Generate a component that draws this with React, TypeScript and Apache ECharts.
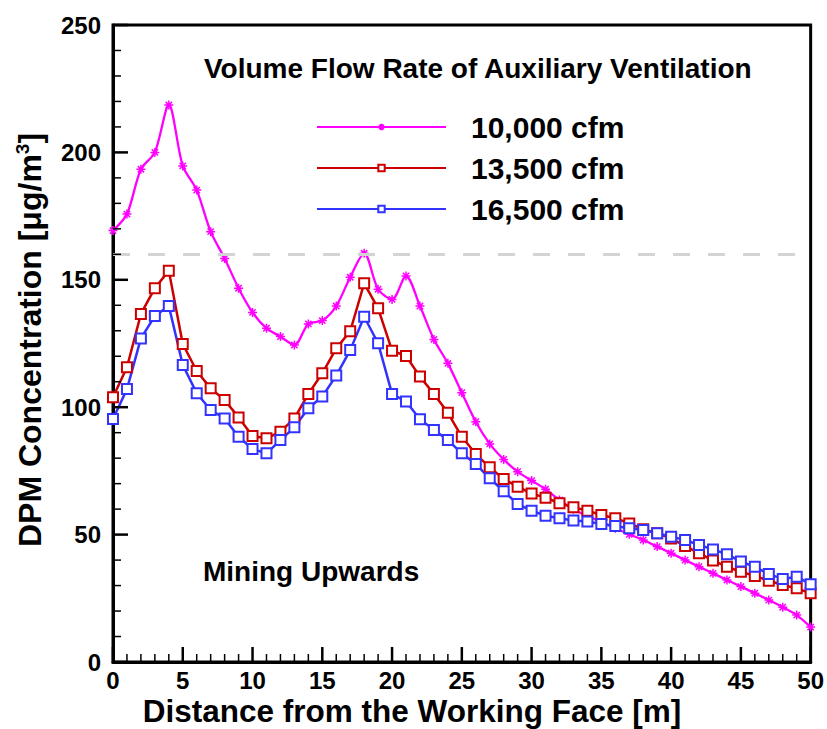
import React, { useEffect, useRef } from "react";
import * as echarts from "echarts";

const distances = [0,1,2,3,4,5,6,7,8,9,10,11,12,13,14,15,16,17,18,19,20,21,22,23,24,25,26,27,28,29,30,31,32,33,34,35,36,37,38,39,40,41,42,43,44,45,46,47,48,49,50];

const cfm10000 = [169.3,175.8,193.4,200,218.6,194.7,185.2,168.9,158.4,146.7,137.2,131,127.7,124.4,132.7,134,139.7,151,160.4,146.3,142.3,151.5,139.7,126.6,117.2,105.7,94.3,85.6,79.5,74.7,71.2,67.8,63.6,59.9,57.3,55,52.5,50.1,47.9,45.3,42.7,40,37.4,34.8,32.2,29.6,27,24.3,21.5,18.4,13.7];

const cfm13500 = [103.9,115.7,136.6,146.7,153.6,124.8,114.2,107.4,102.8,96,88.7,87.8,90.4,95.6,105.2,113.3,123.1,129.8,148.6,138.8,122.2,120.1,112,105.2,97.8,88.4,81.6,76.4,71.8,68.8,66.1,64.5,62.3,60.7,59.4,57.7,56.4,54.4,52.1,50.5,48.5,45.5,42.7,39.8,37.4,35.4,33.8,31.9,30.2,28.9,27];

const cfm16500 = [95.4,107.1,127,135.8,139.7,116.6,105.5,98.9,95.6,88.4,83.6,81.9,87.1,92.1,99.6,104.2,112.4,122.4,135.5,125.1,105.2,102.2,95.3,91.1,87.1,81.9,77.7,72.1,67,62,59.4,57.4,56.4,55.5,55.1,54.2,53.4,52.5,51.8,50.5,49.2,47.9,45.9,44.2,42.3,39.4,37.4,34.5,32.6,33.5,30.5];

const seriesNames = ["10,000 cfm", "13,500 cfm", "16,500 cfm"];
const limitValue = 160;

// tick positions (value units)
const xTickValues = [0,1,2,3,4,5,6,7,8,9,10,11,12,13,14,15,16,17,18,19,20,21,22,23,24,25,26,27,28,29,30,31,32,33,34,35,36,37,38,39,40,41,42,43,44,45,46,47,48,49,50];
const yTickValues = [0,10,20,30,40,50,60,70,80,90,100,110,120,130,140,150,160,170,180,190,200,210,220,230,240,250];

const FONT = '"Liberation Sans", Arial, Helvetica, sans-serif';
const asterisk = "path://M0,5L10,5M5,0L5,10M1.5,1.5L8.5,8.5M8.5,1.5L1.5,8.5";

export default function App() {
  const ref = useRef<HTMLDivElement>(null);
  useEffect(() => {
    if (!ref.current) return;
    const chart = echarts.init(ref.current, undefined, { renderer: "svg" });
    const pair = (arr: number[]) => distances.map((d, i) => [d, arr[i]]);
    const tickData = [
      ...xTickValues.map((v) => [v, 0]),
      ...yTickValues.map((v) => [v, 1]),
    ];
    const axisCommon = {
      axisLine: { show: true, onZero: false, lineStyle: { color: "#000", width: 3 } },
      axisTick: { show: false },
      minorTick: { show: false },
      splitLine: { show: false },
    };
    chart.setOption({
      animation: false,
      backgroundColor: "#fff",
      grid: { left: 113, right: 15, top: 25, bottom: 67, show: true, borderColor: "#000", borderWidth: 3, backgroundColor: "transparent" },
      xAxis: {
        type: "value", min: 0, max: 50, interval: 5,
        ...axisCommon,
        axisLabel: { margin: 6, color: "#000", fontFamily: FONT, fontWeight: "bold", fontSize: 24 },
      },
      yAxis: {
        type: "value", min: 0, max: 250, interval: 50,
        ...axisCommon,
        axisLabel: { margin: 12, color: "#000", fontFamily: FONT, fontWeight: "bold", fontSize: 24 },
      },
      legend: {
        orient: "vertical", left: 311, top: 107,
        itemWidth: 129, itemHeight: 8, itemGap: 11,
        data: seriesNames,
        textStyle: { color: "#000", fontFamily: FONT, fontWeight: "bold", fontSize: 30, lineHeight: 30, padding: [0, 0, 0, 20] },
      },
      series: [
        {
          name: "ticks", type: "custom", silent: true, clip: false, z: 5,
          data: tickData,
          encode: { x: 0, y: 1 },
          renderItem: (params: any, api: any) => {
            const v = api.value(0);
            const kind = api.value(1);
            if (kind === 0) {
              const major = v % 5 === 0;
              const p = api.coord([v, 0]);
              const len = major ? 15 : 8;
              return { type: "line", shape: { x1: p[0], y1: p[1], x2: p[0], y2: p[1] - len }, style: { stroke: "#000", lineWidth: major ? 2.5 : 1.5 } };
            }
            const major = v % 50 === 0;
            const p = api.coord([0, v]);
            const len = major ? 15 : 8;
            return { type: "line", shape: { x1: p[0], y1: p[1], x2: p[0] + len, y2: p[1] }, style: { stroke: "#000", lineWidth: major ? 2.5 : 1.5 } };
          },
        },
        {
          name: seriesNames[0], type: "line", data: pair(cfm10000), smooth: 0.3,
          symbol: asterisk, symbolSize: 9,
          lineStyle: { color: "#ff00ff", width: 2.3 },
          itemStyle: { color: "#ff00ff", borderColor: "#ff00ff", borderWidth: 1.5 },
          markLine: {
            silent: true, symbol: "none", label: { show: false },
            lineStyle: { color: "#d3d3d3", type: [17, 18], width: 3 },
            data: [{ yAxis: limitValue }],
          },
        },
        {
          name: seriesNames[1], type: "line", data: pair(cfm13500),
          symbol: "emptyRect", symbolSize: 10,
          lineStyle: { color: "#cc0000", width: 2.5 },
          itemStyle: { color: "#cc0000", borderColor: "#cc0000", borderWidth: 2.5 },
        },
        {
          name: seriesNames[2], type: "line", data: pair(cfm16500),
          symbol: "emptyRect", symbolSize: 10,
          lineStyle: { color: "#3333ff", width: 2.5 },
          itemStyle: { color: "#3333ff", borderColor: "#3333ff", borderWidth: 2.5 },
        },
      ],
      graphic: [
        {
          type: "text", x: 204, y: 68,
          style: { text: "Volume Flow Rate of Auxiliary Ventilation", fontFamily: FONT, fontWeight: "bold", fontSize: 28, fill: "#000", textAlign: "left", textVerticalAlign: "middle", verticalAlign: "middle" },
        },
        {
          type: "text", x: 203, y: 571,
          style: { text: "Mining Upwards", fontFamily: FONT, fontWeight: "bold", fontSize: 28, fill: "#000", textAlign: "left", textVerticalAlign: "middle", verticalAlign: "middle" },
        },
        {
          type: "text", x: 412, y: 711,
          style: { text: "Distance from the Working Face [m]", fontFamily: FONT, fontWeight: "bold", fontSize: 31.5, fill: "#000", textAlign: "center", textVerticalAlign: "middle", verticalAlign: "middle" },
        },
        {
          type: "text", x: 30, y: 340, rotation: Math.PI / 2,
          style: {
            text: "DPM Concentration [μg/m{sup|3}]",
            fontFamily: FONT, fontWeight: "bold", fontSize: 32, lineHeight: 34, fill: "#000",
            textAlign: "center", textVerticalAlign: "middle", verticalAlign: "middle",
            rich: { sup: { fontFamily: FONT, fontWeight: "bold", fontSize: 19, fill: "#000", verticalAlign: "top" } },
          },
        },
      ],
    });
    return () => chart.dispose();
  }, []);
  return <div ref={ref} style={{ width: 827, height: 729, position: "absolute", left: 0, top: 0 }} />;
}
